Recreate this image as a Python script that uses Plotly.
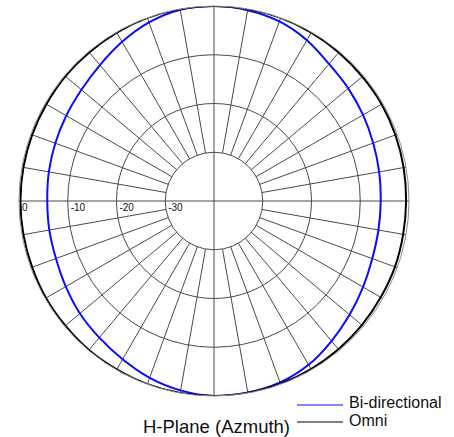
import plotly.graph_objects as go

# Azimuth angles (degrees, counter-clockwise from the right)
angles = list(range(0, 360, 10))

# Relative gain (dB)
bi_directional = [-5.8, -5.6, -5.25, -4.7, -4.05, -3.3, -1.9, -0.8, -0.25, 0.0,
                  -0.15, -1.0, -2.3, -3.6, -4.5, -5.0, -5.35, -5.6, -5.8, -5.7,
                  -5.5, -4.9, -4.1, -3.4, -2.5, -1.4, -0.55, 0.0, -0.1, -0.4,
                  -1.2, -2.5, -3.7, -4.7, -5.45, -5.75]
omni = [-0.6, -0.5, -0.4, -0.3, -0.3, -0.2, -0.1, 0.0, 0.0, 0.0,
        0.0, 0.0, -0.1, -0.2, -0.2, -0.3, -0.3, -0.3, -0.3, -0.3,
        -0.3, -0.2, -0.2, -0.1, -0.1, 0.0, 0.0, 0.0, 0.0, -0.1,
        -0.2, -0.3, -0.4, -0.5, -0.5, -0.6]

# Radial scale ticks
tick_values = [0, -10, -20, -30]
tick_labels = ["0", "-10", "-20", "-30"]

series_names = ["Bi-directional", "Omni"]
series_colors = ["#0a0aff", "#000000"]

FONT = "Liberation Sans, Arial, sans-serif"
GRID = "#4a4a4a"

fig = go.Figure()

# spokes every 10 degrees (from -30 dB ring outward; cardinal axes through the centre)
sp_r, sp_t = [], []
for a in range(0, 360, 10):
    inner = -40 if a % 90 == 0 else -30
    sp_r += [inner, 0, None]
    sp_t += [a, a, None]
fig.add_trace(go.Scatterpolar(r=sp_r, theta=sp_t, mode="lines",
                              line=dict(color=GRID, width=1),
                              showlegend=False, hoverinfo="skip"))

# scale labels along the left horizontal axis
fig.add_trace(go.Scatterpolar(r=tick_values, theta=[180] * len(tick_values),
                              mode="markers+text", text=tick_labels,
                              marker=dict(size=3, opacity=0),
                              textposition="bottom right",
                              textfont=dict(family="Liberation Sans Narrow, Arial Narrow, " + FONT,
                                            size=10, color="#111"),
                              showlegend=False, hoverinfo="skip"))

for name, vals, col in zip(series_names, [bi_directional, omni], series_colors):
    fig.add_trace(go.Scatterpolar(r=vals + vals[:1], theta=angles + [360],
                                  mode="lines", name=name, showlegend=False,
                                  line=dict(color=col, width=2, shape="spline")))

W, H = 454, 437
cx, cy, R = 214, 201, 195


def px(x):
    return x / W


def py(y):
    return (H - y) / H


# hand-placed legend (thin sample lines + labels), as in the original artwork
shapes, annotations = [], []
for i, (name, col) in enumerate(zip(series_names, series_colors)):
    yl = 405 + 17 * i
    shapes.append(dict(type="line", xref="paper", yref="paper",
                       x0=px(297), x1=px(343), y0=py(yl), y1=py(yl),
                       line=dict(color=col, width=1)))
    annotations.append(dict(text=name, x=px(347), y=py(402 + 18 * i),
                            xref="paper", yref="paper", xanchor="left",
                            yanchor="middle", showarrow=False,
                            font=dict(size=16, family=FONT, color="#111")))

annotations.append(dict(text="H-Plane (Azmuth)", x=px(292), y=py(426),
                        xref="paper", yref="paper", xanchor="right",
                        yanchor="middle", showarrow=False,
                        font=dict(size=18.5, family=FONT, color="#111")))

fig.update_layout(
    width=W, height=H,
    margin=dict(l=0, r=0, t=0, b=0, autoexpand=False),
    paper_bgcolor="white",
    showlegend=False,
    font=dict(family=FONT, color="#111"),
    polar=dict(
        domain=dict(x=[px(cx - R), px(cx + R)],
                    y=[py(cy + R), py(cy - R)]),
        bgcolor="white",
        radialaxis=dict(range=[-40, 0], tickvals=[-30, -20, -10],
                        showticklabels=False, ticks="", showline=False,
                        gridcolor=GRID, gridwidth=1),
        angularaxis=dict(rotation=0, direction="counterclockwise",
                         showgrid=False, showticklabels=False, ticks="",
                         showline=True, linecolor="#8a8a8a", linewidth=1),
    ),
    shapes=shapes,
    annotations=annotations,
)

fig.write_html("out.html", config={"displayModeBar": False},
               post_script="document.body.style.margin='0px';")
